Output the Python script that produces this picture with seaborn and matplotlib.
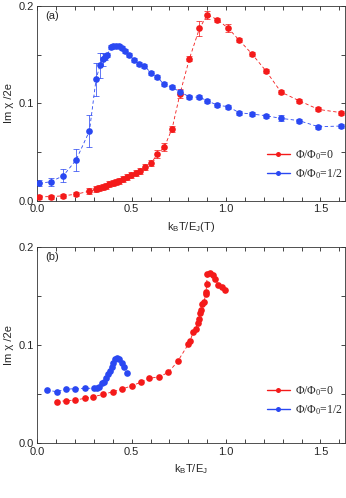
import numpy as np
import pandas as pd
import matplotlib
matplotlib.use("Agg")
import matplotlib.pyplot as plt
from matplotlib.lines import Line2D
from matplotlib.ticker import MultipleLocator, FormatStrFormatter
import seaborn as sns

# ---------------- data ----------------
# panel (a): versus k_B T / E_J(T)
xa_red = [0.011, 0.071, 0.138, 0.205, 0.276, 0.311, 0.329, 0.346, 0.364, 0.382, 0.400, 0.417,
          0.435, 0.456, 0.477, 0.498, 0.523, 0.544, 0.571, 0.601, 0.636, 0.673, 0.714, 0.756,
          0.806, 0.859, 0.901, 0.954, 1.012, 1.069, 1.136, 1.210, 1.291, 1.387, 1.489, 1.610]
ya_red = [0.0040, 0.0042, 0.0050, 0.0067, 0.0097, 0.0118, 0.0134, 0.0144, 0.0154, 0.0168,
          0.0178, 0.0192, 0.0205, 0.0222, 0.0240, 0.0260, 0.0288, 0.0308, 0.0342, 0.0383,
          0.0476, 0.0552, 0.0740, 0.1100, 0.1460, 0.1770, 0.1910, 0.1860, 0.1770, 0.1650,
          0.1510, 0.1336, 0.1116, 0.1027, 0.0938, 0.0904]
ea_red = [0.002, 0.002, 0.002, 0.002, 0.003, 0.003, 0.003, 0.003, 0.003, 0.003, 0.003, 0.003,
          0.003, 0.003, 0.003, 0.003, 0.003, 0.003, 0.003, 0.003, 0.004, 0.004, 0.003, 0.005,
          0.003, 0.008, 0.004, 0.002, 0.004, 0.002, 0.002, 0.002, 0.002, 0.002, 0.002, 0.002]

xa_blue = [0.011, 0.071, 0.138, 0.205, 0.276, 0.311, 0.332, 0.346, 0.358, 0.371, 0.389, 0.403,
           0.417, 0.431, 0.447, 0.463, 0.488, 0.514, 0.539, 0.567, 0.601, 0.633, 0.671, 0.716,
           0.756, 0.806, 0.859, 0.901, 0.954, 1.012, 1.069, 1.136, 1.210, 1.291, 1.387, 1.489, 1.610]
ya_blue = [0.0178, 0.0195, 0.0257, 0.0418, 0.0716, 0.1247, 0.1390, 0.1452, 0.1473, 0.1497,
           0.1580, 0.1590, 0.1590, 0.1589, 0.1570, 0.1540, 0.1497, 0.1445, 0.1404, 0.1384,
           0.1315, 0.1274, 0.1195, 0.1164, 0.1116, 0.1068, 0.1062, 0.1027, 0.0980, 0.0966,
           0.0904, 0.0890, 0.0873, 0.0846, 0.0822, 0.0760, 0.0767]
ea_blue = [0.003, 0.004, 0.007, 0.011, 0.016, 0.017, 0.013, 0.007, 0.003, 0.002, 0.002, 0.002,
           0.002, 0.002, 0.002, 0.002, 0.002, 0.002, 0.002, 0.002, 0.002, 0.002, 0.002, 0.002,
           0.002, 0.002, 0.002, 0.002, 0.002, 0.002, 0.002, 0.002, 0.002, 0.003, 0.002, 0.002, 0.002]

# panel (b): versus k_B T / E_J
xb_red = [0.102, 0.150, 0.200, 0.253, 0.297, 0.350, 0.400, 0.447, 0.500, 0.548, 0.594, 0.647,
          0.694, 0.744, 0.800, 0.809, 0.827, 0.839, 0.850, 0.857, 0.862, 0.866, 0.871, 0.883,
          0.892, 0.894, 0.897, 0.901, 0.915, 0.929, 0.942, 0.959, 0.977, 0.995]
yb_red = [0.0423, 0.0433, 0.0440, 0.0458, 0.0474, 0.0498, 0.0525, 0.0550, 0.0586, 0.0621,
          0.0661, 0.0678, 0.0722, 0.0835, 0.1010, 0.1044, 0.1136, 0.1163, 0.1227, 0.1270,
          0.1329, 0.1363, 0.1424, 0.1440, 0.1519, 0.1542, 0.1627, 0.1722, 0.1736, 0.1712,
          0.1679, 0.1610, 0.1593, 0.1560]

xb_blue = [0.049, 0.102, 0.150, 0.200, 0.253, 0.300, 0.315, 0.328, 0.341, 0.353, 0.364, 0.376,
           0.385, 0.394, 0.403, 0.412, 0.424, 0.435, 0.447, 0.459, 0.474]
yb_blue = [0.0542, 0.0525, 0.0550, 0.0556, 0.0560, 0.0560, 0.0560, 0.0576, 0.0610, 0.0627,
           0.0660, 0.0705, 0.0739, 0.0780, 0.0820, 0.0855, 0.0871, 0.0855, 0.0814, 0.0780, 0.0718]

labels = ["\u03a6/\u03a6$\\mathregular{_0}$=0", "\u03a6/\u03a6$\\mathregular{_0}$=1/2"]
RED = "#f41a1a"
BLUE = "#2a48f2"

# ---------------- style ----------------
sns.set_theme(style="ticks")
plt.rcParams["font.family"] = ["Liberation Sans", "DejaVu Sans"]
plt.rcParams["mathtext.fontset"] = "custom"
plt.rcParams["mathtext.rm"] = "Liberation Sans"
plt.rcParams["mathtext.it"] = "Liberation Sans:italic"

fig = plt.figure(figsize=(3.46, 4.98), dpi=100)
axa = fig.add_axes([0.108, 0.597, 0.889, 0.391])
axb = fig.add_axes([0.108, 0.110, 0.889, 0.394])

def draw(ax, x, y, color, err=None):
    df = pd.DataFrame({"x": x, "y": y})
    if err is not None:
        ax.errorbar(x, y, yerr=err, fmt="none", ecolor=color, elinewidth=0.7,
                    capsize=2, capthick=0.7, alpha=0.75, zorder=2)
    sns.lineplot(data=df, x="x", y="y", ax=ax, color=color, sort=False,
                 linestyle=(0, (4, 3)), linewidth=0.6, marker="o", markersize=4.8,
                 markeredgewidth=0, zorder=3)

draw(axa, xa_red, ya_red, RED, ea_red)
draw(axa, xa_blue, ya_blue, BLUE, ea_blue)
draw(axb, xb_red, yb_red, RED)
draw(axb, xb_blue, yb_blue, BLUE)

for ax, xl, tag, ly in [(axa, "k$_\\mathregular{B}$T/E$_\\mathregular{J}$(T)", "(a)", 0.27),
                        (axb, "k$_\\mathregular{B}$T/E$_\\mathregular{J}$", "(b)", 0.30)]:
    ax.set_xlim(0, 1.63)
    ax.set_ylim(0, 0.2)
    ax.xaxis.set_major_locator(MultipleLocator(0.5))
    ax.xaxis.set_minor_locator(MultipleLocator(0.1))
    ax.yaxis.set_major_locator(MultipleLocator(0.1))
    ax.yaxis.set_minor_locator(MultipleLocator(0.05))
    ax.tick_params(which="both", direction="in", top=True, right=True,
                   labelsize=8, width=0.6, pad=2.5)
    ax.tick_params(which="major", length=3.2)
    ax.tick_params(which="minor", length=2.8)
    ax.xaxis.set_major_formatter(FormatStrFormatter("%.1f"))
    ax.yaxis.set_major_formatter(FormatStrFormatter("%.1f"))
    for s in ax.spines.values():
        s.set_linewidth(0.6)
        s.set_color("#333333")
    ax.set_xlabel(xl, fontsize=8, labelpad=4)
    ax.set_ylabel("Im \u03c7 /2e", fontsize=8, labelpad=3)
    ax.text(0.025, 0.975, tag, transform=ax.transAxes, fontsize=8, va="top", ha="left")
    handles = [Line2D([], [], color=RED, lw=1.0, marker="o", markersize=3.6, markeredgewidth=0),
               Line2D([], [], color=BLUE, lw=1.0, marker="o", markersize=3.6, markeredgewidth=0)]
    ax.legend(handles, labels, loc="upper left", bbox_to_anchor=(0.745, ly),
              frameon=False, borderpad=0, borderaxespad=0, handlelength=2.0,
              handletextpad=0.45, labelspacing=0.45,
              prop={"family": "Liberation Serif", "size": 8.5})

fig.savefig("out.png", dpi=100)
